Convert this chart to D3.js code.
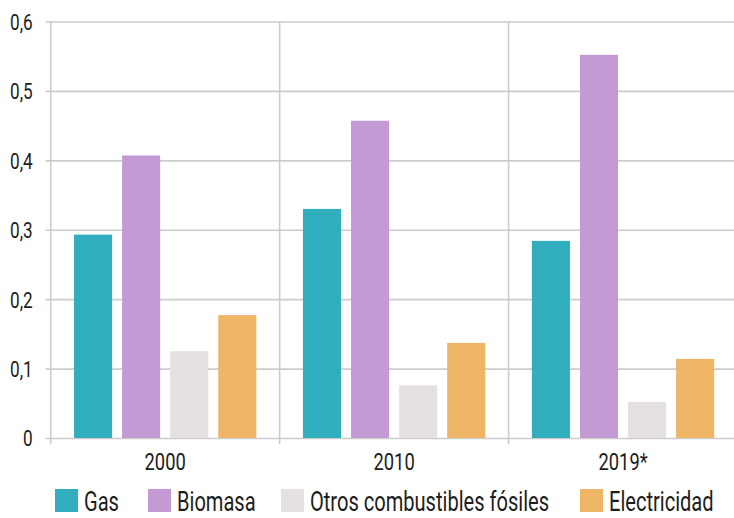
<!DOCTYPE html>
<html>
<head>
<meta charset="utf-8">
<script src="https://cdn.jsdelivr.net/npm/d3@7"></script>
<style>
  html, body { margin: 0; padding: 0; background: #fff; }
  svg { display: block; }
  text { font-family: Roboto, "Liberation Sans", sans-serif; fill: #1d1d1b; }
</style>
</head>
<body>
<svg id="chart" width="734" height="518"></svg>
<script>
// Categories and series
const years = ["2000", "2010", "2019*"];
const series = ["Gas", "Biomasa", "Otros combustibles fósiles", "Electricidad"];
const colors = ["#31aebe", "#c39ad4", "#e5e1e2", "#efb567"];

// Values per series, one entry per year
const gas = [0.293, 0.330, 0.284];
const biomasa = [0.407, 0.457, 0.552];
const otros = [0.125, 0.076, 0.052];
const electricidad = [0.177, 0.137, 0.114];

// Y axis ticks and their labels
const yTicks = [0, 0.1, 0.2, 0.3, 0.4, 0.5, 0.6];
const yTickLabels = ["0", "0,1", "0,2", "0,3", "0,4", "0,5", "0,6"];

const seriesValues = [gas, biomasa, otros, electricidad];
const rows = years.map((yr, i) => ({
  year: yr,
  values: series.map((s, j) => ({ key: s, value: seriesValues[j][i], color: colors[j] }))
}));

// Horizontal squeeze giving the labels a condensed look
const squeeze = 0.78;
const legendSqueeze = 0.73;

const svg = d3.select("#chart");
const plotLeft = 50.7, plotRight = 737.5, plotTop = 21.5, plotBottom = 438;

const x0 = d3.scaleBand().domain(years).range([plotLeft, plotRight]).padding(0);
const x1 = d3.scaleBand().domain(series).range([0, x0.bandwidth()])
  .paddingInner(0.208).paddingOuter(0.485);
const y = d3.scaleLinear().domain([0, 0.6]).range([plotBottom, plotTop]);

const gridColor = "#cccccc";

// Horizontal gridlines with tick labels
const yAxis = d3.axisLeft(y)
  .tickValues(yTicks)
  .tickFormat((d, i) => yTickLabels[i])
  .tickSize(-(734 - plotLeft))
  .tickSizeOuter(0)
  .tickPadding(0);
const gy = svg.append("g").attr("transform", `translate(${plotLeft},0)`).call(yAxis);
gy.attr("font-family", null).attr("font-size", null);
gy.select(".domain").remove();
gy.selectAll(".tick line")
  .attr("x1", -5)
  .attr("stroke", gridColor)
  .attr("stroke-width", 1.6);
gy.selectAll(".tick text")
  .attr("x", null)
  .attr("font-size", 22)
  .attr("dy", "0.36em")
  .attr("transform", `translate(-18,0) scale(${squeeze},1)`);

// Category separators (left axis line included)
const seps = years.map(d => x0(d));
svg.append("g").selectAll("line").data(seps).join("line")
  .attr("x1", d => d).attr("x2", d => d)
  .attr("y1", plotTop).attr("y2", plotBottom + 6)
  .attr("stroke", gridColor)
  .attr("stroke-width", 1.6);

// Bars
const groups = svg.append("g").selectAll("g").data(rows).join("g")
  .attr("transform", d => `translate(${x0(d.year)},0)`);
groups.selectAll("rect").data(d => d.values).join("rect")
  .attr("x", d => x1(d.key))
  .attr("width", x1.bandwidth())
  .attr("y", d => y(d.value))
  .attr("height", d => y(0) - y(d.value))
  .attr("fill", d => d.color);

// Category labels
svg.append("g").selectAll("text").data(years).join("text")
  .attr("transform", d => `translate(${x0(d) + x0.bandwidth() / 2},470) scale(${squeeze},1)`)
  .attr("text-anchor", "middle")
  .attr("font-size", 23.5)
  .text(d => d);

// Legend
const legendX = [55, 148, 281, 580];
const legend = svg.append("g").selectAll("g").data(series).join("g")
  .attr("transform", (d, i) => `translate(${legendX[i]},489)`);
legend.append("rect")
  .attr("width", 23).attr("height", 23)
  .attr("fill", (d, i) => colors[i]);
legend.append("text")
  .attr("transform", `translate(29,21.5) scale(${legendSqueeze},1)`)
  .attr("font-size", 27.5)
  .text(d => d);
</script>
</body>
</html>
